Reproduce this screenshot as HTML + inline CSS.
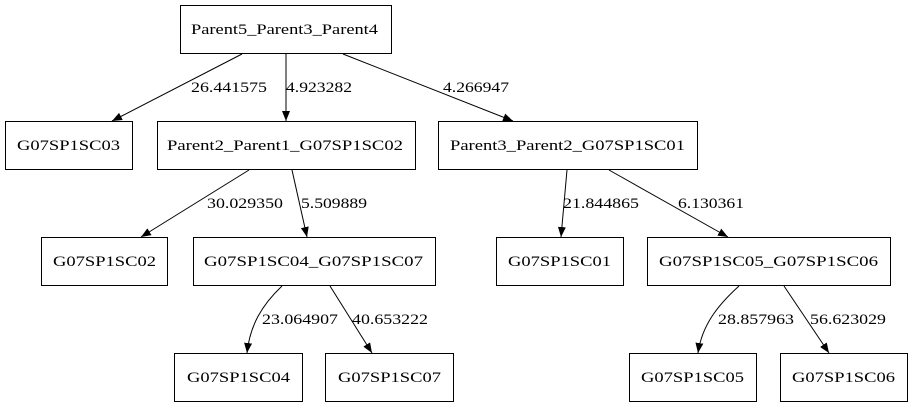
<!DOCTYPE html>
<html><head><meta charset="utf-8"><style>
html,body{margin:0;padding:0;background:#fff;}
svg{display:block;}
</style></head><body>
<svg width="912" height="407" viewBox="0 0 912 407" xmlns="http://www.w3.org/2000/svg" font-family="'Liberation Serif', 'DejaVu Serif', serif" font-size="15">
<defs><marker id="a" markerWidth="10" markerHeight="8" refX="10" refY="4" orient="auto" markerUnits="userSpaceOnUse"><polygon points="0,0 10,4 0,8" fill="#000"/></marker></defs>
<g fill="none" stroke="#000" stroke-width="1">
<rect x="180.5" y="5.5" width="211" height="48"/>
<rect x="5.5" y="121.5" width="127" height="48"/>
<rect x="157.5" y="121.5" width="258" height="48"/>
<rect x="438.5" y="121.5" width="259" height="48"/>
<rect x="41.5" y="237.5" width="126" height="48"/>
<rect x="193.5" y="237.5" width="242" height="48"/>
<rect x="496.5" y="237.5" width="127" height="48"/>
<rect x="647.5" y="237.5" width="243" height="48"/>
<rect x="174.5" y="353.5" width="128" height="48"/>
<rect x="325.5" y="353.5" width="128" height="48"/>
<rect x="629.5" y="353.5" width="127" height="48"/>
<rect x="780.5" y="353.5" width="127" height="48"/>
<path d="M242,54 L112,121" marker-end="url(#a)"/>
<path d="M286,54 L286,121" marker-end="url(#a)"/>
<path d="M343,54 L513,121" marker-end="url(#a)"/>
<path d="M249,170 L141,237" marker-end="url(#a)"/>
<path d="M292,170 L307,237" marker-end="url(#a)"/>
<path d="M567,170 L561,237" marker-end="url(#a)"/>
<path d="M609,170 L728,237" marker-end="url(#a)"/>
<path d="M282,286 C262,305 250,325 247,353" marker-end="url(#a)"/>
<path d="M330,286 L372,353" marker-end="url(#a)"/>
<path d="M739,286 C718,305 702,325 698,353" marker-end="url(#a)"/>
<path d="M784,286 L829,353" marker-end="url(#a)"/>
</g>
<g fill="#000" lengthAdjust="spacingAndGlyphs">
<text x="191" y="34" textLength="187" lengthAdjust="spacingAndGlyphs">Parent5_Parent3_Parent4</text>
<text x="17" y="150" textLength="103" lengthAdjust="spacingAndGlyphs">G07SP1SC03</text>
<text x="167" y="150" textLength="236" lengthAdjust="spacingAndGlyphs">Parent2_Parent1_G07SP1SC02</text>
<text x="450" y="150" textLength="235" lengthAdjust="spacingAndGlyphs">Parent3_Parent2_G07SP1SC01</text>
<text x="53" y="266" textLength="103" lengthAdjust="spacingAndGlyphs">G07SP1SC02</text>
<text x="204" y="266" textLength="219" lengthAdjust="spacingAndGlyphs">G07SP1SC04_G07SP1SC07</text>
<text x="508" y="266" textLength="103" lengthAdjust="spacingAndGlyphs">G07SP1SC01</text>
<text x="659" y="266" textLength="219" lengthAdjust="spacingAndGlyphs">G07SP1SC05_G07SP1SC06</text>
<text x="187" y="382" textLength="103" lengthAdjust="spacingAndGlyphs">G07SP1SC04</text>
<text x="338" y="382" textLength="103" lengthAdjust="spacingAndGlyphs">G07SP1SC07</text>
<text x="641" y="382" textLength="103" lengthAdjust="spacingAndGlyphs">G07SP1SC05</text>
<text x="792" y="382" textLength="103" lengthAdjust="spacingAndGlyphs">G07SP1SC06</text>
<text x="191" y="92" textLength="76" lengthAdjust="spacingAndGlyphs">26.441575</text>
<text x="286" y="92" textLength="66" lengthAdjust="spacingAndGlyphs">4.923282</text>
<text x="443" y="92" textLength="66" lengthAdjust="spacingAndGlyphs">4.266947</text>
<text x="207" y="208" textLength="76" lengthAdjust="spacingAndGlyphs">30.029350</text>
<text x="301" y="208" textLength="66" lengthAdjust="spacingAndGlyphs">5.509889</text>
<text x="563" y="208" textLength="76" lengthAdjust="spacingAndGlyphs">21.844865</text>
<text x="678" y="208" textLength="66" lengthAdjust="spacingAndGlyphs">6.130361</text>
<text x="262" y="324" textLength="76" lengthAdjust="spacingAndGlyphs">23.064907</text>
<text x="352" y="324" textLength="76" lengthAdjust="spacingAndGlyphs">40.653222</text>
<text x="718" y="324" textLength="76" lengthAdjust="spacingAndGlyphs">28.857963</text>
<text x="810" y="324" textLength="76" lengthAdjust="spacingAndGlyphs">56.623029</text>
</g>
</svg>
</body></html>
